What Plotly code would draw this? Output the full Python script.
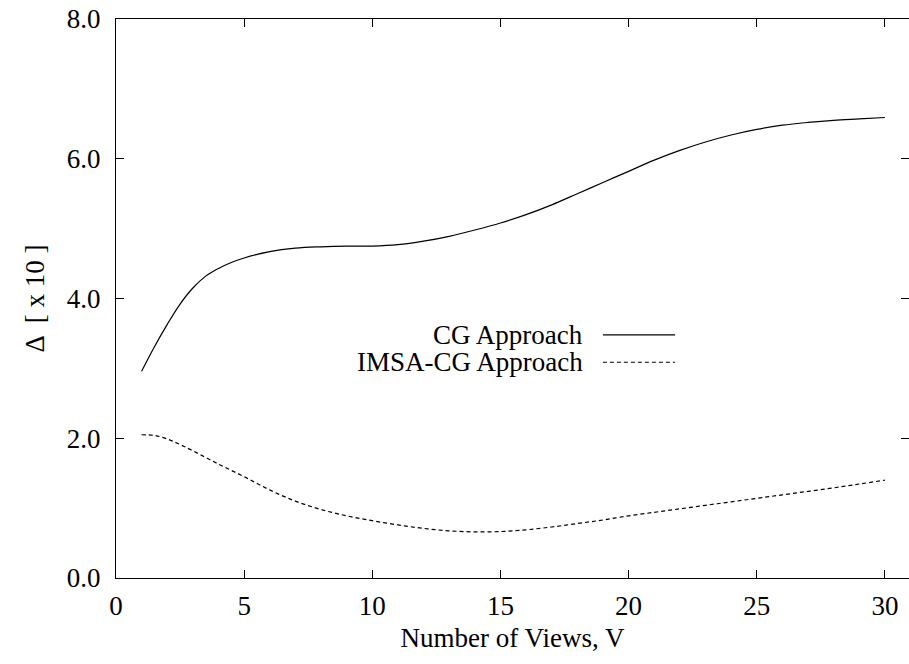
import plotly.graph_objects as go

cg_views = [1, 1.5, 2, 2.5, 3, 3.5, 4, 4.5, 5, 6, 7, 8, 9, 10,
            11, 12, 13, 14, 15, 16, 17, 18, 19, 20,
            21, 22, 23, 24, 25, 26, 27, 28, 29, 30]
cg = [2.96, 3.31, 3.63, 3.92, 4.15, 4.32, 4.43, 4.515, 4.58, 4.67, 4.72, 4.74, 4.75, 4.75,
      4.77, 4.82, 4.89, 4.98, 5.08, 5.20, 5.34, 5.50, 5.66, 5.82,
      5.98, 6.12, 6.24, 6.34, 6.42, 6.48, 6.52, 6.55, 6.57, 6.59]
imsa_views = [1, 1.5, 2, 2.5, 3, 4, 5, 6, 7, 8, 9, 10,
              11, 12, 13, 14, 15, 16, 17, 18, 19, 20,
              21, 22, 23, 24, 25, 26, 27, 28, 29, 30]
imsa = [2.05, 2.04, 1.99, 1.91, 1.82, 1.63, 1.45, 1.26, 1.10, 0.98, 0.89, 0.82,
        0.76, 0.71, 0.675, 0.66, 0.665, 0.69, 0.73, 0.78, 0.83, 0.89,
        0.94, 0.99, 1.04, 1.09, 1.14, 1.19, 1.24, 1.29, 1.345, 1.40]
x_ticks = [0, 5, 10, 15, 20, 25, 30]
y_ticks = [0, 2, 4, 6, 8]
y_tick_text = ["0.0", "2.0", "4.0", "6.0", "8.0"]
series_names = ["CG Approach", "IMSA-CG Approach"]

FONT = "Liberation Serif, Times New Roman, serif"
fs = 27

fig = go.Figure()
fig.add_trace(go.Scatter(x=cg_views, y=cg, mode="lines", name=series_names[0],
                         line=dict(color="black", width=1.2, shape="spline", smoothing=1.0),
                         showlegend=False))
fig.add_trace(go.Scatter(x=imsa_views, y=imsa, mode="lines", name=series_names[1],
                         line=dict(color="black", width=1.2, shape="spline", smoothing=1.0,
                                   dash="4px,3px"),
                         showlegend=False))
# invisible trace carrying the right-side mirrored ticks
fig.add_trace(go.Scatter(x=cg_views, y=cg, mode="lines", yaxis="y2",
                         line=dict(width=0), hoverinfo="skip", showlegend=False,
                         opacity=0))

padded_y_text = [t + "\u200a\u00a0" for t in y_tick_text]

fig.update_layout(
    width=909, height=664,
    margin=dict(l=116, r=0, t=19, b=86),
    paper_bgcolor="white", plot_bgcolor="white",
    font=dict(family=FONT, size=fs, color="black"),
    xaxis=dict(range=[0, 30.94], tickvals=x_ticks, ticks="inside", ticklen=8,
               tickcolor="black", showline=True, linecolor="black", linewidth=1.2,
               mirror="ticks", showgrid=False, zeroline=False, ticklabelstandoff=3,
               title=dict(text="Number of Views, V", standoff=8,
                          font=dict(family=FONT, size=fs))),
    yaxis=dict(range=[0, 8], tickvals=y_ticks, ticktext=padded_y_text, ticks="inside",
               ticklen=8, tickcolor="black", showline=True, linecolor="black",
               linewidth=1.2, showgrid=False, zeroline=False,
               title=dict(text="Δ  [ x 10 ]", standoff=14,
                          font=dict(family=FONT, size=fs))),
    yaxis2=dict(range=[0, 8], tickvals=y_ticks, overlaying="y", side="right",
                ticks="inside", ticklen=8, tickcolor="black", showticklabels=False,
                showline=False, showgrid=False, zeroline=False),
)

legend_y = [0.435, 0.386]
dashes = ["solid", "4px,3px"]
for name, yy, d in zip(series_names, legend_y, dashes):
    fig.add_annotation(x=0.591, y=yy, xref="paper", yref="paper", text=name,
                       showarrow=False, xanchor="right", yanchor="middle",
                       font=dict(family=FONT, size=fs))
    fig.add_shape(type="line", xref="paper", yref="paper", x0=0.614, x1=0.705,
                  y0=yy, y1=yy, line=dict(color="black", width=1.2, dash=d))

fig.write_html("out.html")
